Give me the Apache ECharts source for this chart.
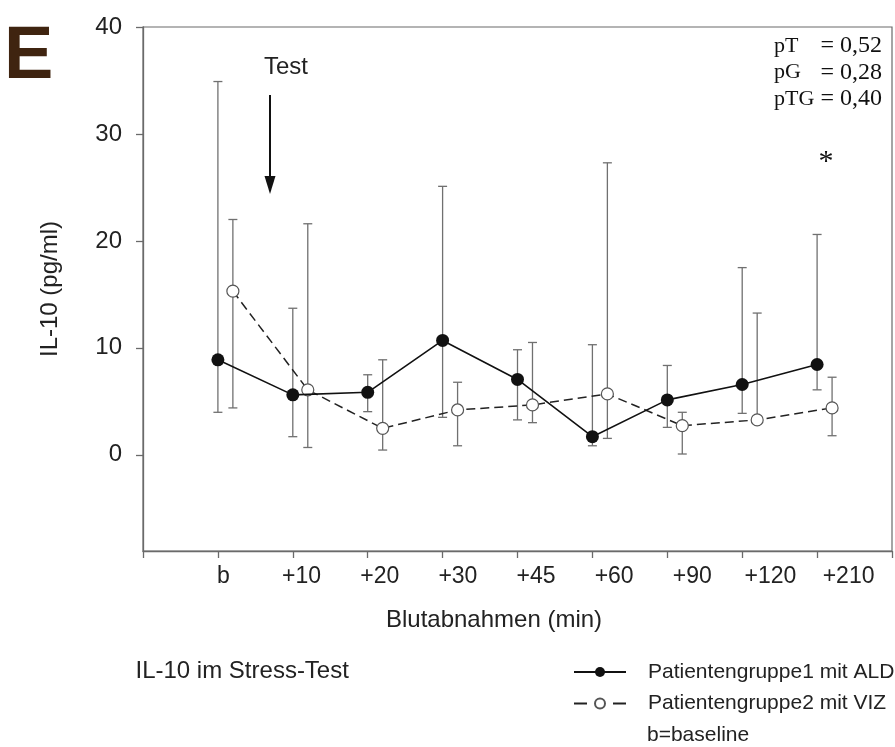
<!DOCTYPE html>
<html><head><meta charset="utf-8">
<script src="https://cdn.jsdelivr.net/npm/echarts@6/dist/echarts.min.js"></script>
<style>html,body{margin:0;padding:0;background:#fff}#c{width:895px;height:747px}</style>
</head><body><div id="c"></div>
<script>
// ---- data ----
const categories = ['b', '+10', '+20', '+30', '+45', '+60', '+90', '+120', '+210'];
const yTickValues = [0, 10, 20, 30, 40];
const seriesNames = ['Patientengruppe1 mit ALD', 'Patientengruppe2 mit VIZ'];
const aldMean = [8.88, 5.6, 5.84, 10.69, 7.04, 1.69, 5.13, 6.57, 8.44];
const aldLow  = [3.97, 1.69, 4.03, 3.5, 3.26, 0.84, 2.56, 3.87, 6.07];
const aldHigh = [34.9, 13.7, 7.48, 25.1, 9.82, 10.29, 8.35, 17.5, 20.6];
const vizMean = [15.3, 6.07, 2.47, 4.19, 4.66, 5.69, 2.72, 3.26, 4.38];
const vizLow  = [4.38, 0.68, 0.44, 0.84, 3.0, 1.53, 0.07, 2.9, 1.78];
const vizHigh = [22.0, 21.6, 8.88, 6.78, 10.5, 27.3, 3.97, 13.25, 7.25];
const pValues = [['pT', '= 0,52'], ['pG', '= 0,28'], ['pTG', '= 0,40']];
const panelLetter = 'E';
const chartNote = 'IL-10 im Stress-Test';
const baselineNote = 'b=baseline';
const testLabel = 'Test';
const sigMark = '*';

// ---- chart ----
const SANS = '"Liberation Sans", Arial, sans-serif';
const SERIF = '"Liberation Serif", "Times New Roman", serif';
const AX = '#6a6a6a';
const GROUP_SHIFT = [0, 0.2];
const pos = categories.map((c, i) => i + 1);

function pts(mean, s) { return mean.map((v, i) => [pos[i] + s, v]); }
function bars(lo, hi, s) { return lo.map((l, i) => [pos[i] + s, l, hi[i]]); }

function errRender(params, api) {
  const x = api.value(0);
  const lo = api.coord([x, api.value(1)]);
  const hi = api.coord([x, api.value(2)]);
  const w = 4.5;
  const style = { stroke: '#707070', lineWidth: 1.3 };
  return { type: 'group', children: [
    { type: 'line', shape: { x1: lo[0], y1: lo[1], x2: hi[0], y2: hi[1] }, style },
    { type: 'line', shape: { x1: lo[0] - w, y1: lo[1], x2: lo[0] + w, y2: lo[1] }, style },
    { type: 'line', shape: { x1: hi[0] - w, y1: hi[1], x2: hi[0] + w, y2: hi[1] }, style }
  ]};
}

const chart = echarts.init(document.getElementById('c'));

const graphics = [
  { type: 'text', x: 4, y: 58, style: { text: panelLetter, font: 'bold 74px ' + SANS, fill: '#3f2410', align: 'left', verticalAlign: 'middle' } },
  { type: 'text', x: 286, y: 67, style: { text: testLabel, font: '24px ' + SANS, fill: '#222', align: 'center', verticalAlign: 'middle' } },
  { type: 'line', shape: { x1: 270, y1: 95, x2: 270, y2: 180 }, style: { stroke: '#111', lineWidth: 2 } },
  { type: 'polygon', shape: { points: [[264.5, 176], [275.5, 176], [270, 194]] }, style: { fill: '#111' } },
  { type: 'text', x: 826, y: 162, style: { text: sigMark, font: '30px ' + SERIF, fill: '#111', align: 'center', verticalAlign: 'middle' } },
  { type: 'text', x: 135.5, y: 671, style: { text: chartNote, font: '24px ' + SANS, fill: '#222', align: 'left', verticalAlign: 'middle' } },
  { type: 'text', x: 647, y: 735, style: { text: baselineNote, font: '21px ' + SANS, fill: '#222', align: 'left', verticalAlign: 'middle' } }
];
pValues.forEach((p, i) => {
  const y = 46 + i * 26.6;
  graphics.push({ type: 'text', x: 774, y, style: { text: p[0], font: '22px ' + SERIF, fill: '#111', align: 'left', verticalAlign: 'middle' } });
  graphics.push({ type: 'text', x: 882, y, style: { text: p[1], font: '24px ' + SERIF, fill: '#111', align: 'right', verticalAlign: 'middle' } });
});

chart.setOption({
  animation: false,
  backgroundColor: '#fff',
  grid: { left: 143, right: 3, top: 27, bottom: 196, show: true, borderColor: AX, borderWidth: 1.2 },
  xAxis: [
    {
      type: 'value', min: 0, max: 10, interval: 1, position: 'bottom',
      axisLine: { show: true, onZero: false, lineStyle: { color: AX, width: 1.3 } },
      axisTick: { show: true, length: 7, lineStyle: { color: AX, width: 1.3 } },
      axisLabel: { show: false }, splitLine: { show: false },
      name: 'Blutabnahmen (min)', nameLocation: 'middle', nameGap: 57,
      nameTextStyle: { fontFamily: SANS, fontSize: 24, color: '#222', padding: [0, 47, 0, 0] }
    },
    {
      type: 'value', min: -0.03, max: 9.556, position: 'bottom',
      axisLine: { show: false }, axisTick: { show: false }, splitLine: { show: false },
      axisLabel: { customValues: pos, formatter: v => categories[Math.round(v) - 1] || '', margin: 14,
        fontFamily: SANS, fontSize: 23, color: '#222' }
    }
  ],
  yAxis: {
    type: 'value', min: -9, max: 40,
    axisLine: { show: true, onZero: false, lineStyle: { color: AX, width: 1.3 } },
    axisTick: { show: true, customValues: yTickValues, length: 7, lineStyle: { color: AX, width: 1.3 } },
    axisLabel: { customValues: yTickValues, margin: 21, fontFamily: SANS, fontSize: 24, color: '#222' },
    splitLine: { show: false },
    name: 'IL-10 (pg/ml)', nameLocation: 'middle', nameGap: 81,
    nameTextStyle: { fontFamily: SANS, fontSize: 24, color: '#222' }
  },
  legend: {
    orient: 'vertical', left: 573, top: 660, padding: 0, itemWidth: 52, itemHeight: 12.5, itemGap: 7.6,
    selectedMode: false,
    textStyle: { fontFamily: SANS, fontSize: 21, color: '#222', lineHeight: 24, padding: [0, 0, 0, 17] },
    data: [ { name: seriesNames[0] }, { name: seriesNames[1], lineStyle: { type: [13, 26] } } ]
  },
  series: [
    { type: 'custom', name: 'errALD', xAxisIndex: 0, renderItem: errRender, data: bars(aldLow, aldHigh, GROUP_SHIFT[0]), encode: { x: 0, y: [1, 2] }, z: 2, silent: true },
    { type: 'custom', name: 'errVIZ', xAxisIndex: 0, renderItem: errRender, data: bars(vizLow, vizHigh, GROUP_SHIFT[1]), encode: { x: 0, y: [1, 2] }, z: 2, silent: true },
    { type: 'line', name: seriesNames[1], xAxisIndex: 0, data: pts(vizMean, GROUP_SHIFT[1]), symbol: 'circle', symbolSize: 12,
      itemStyle: { color: '#fff', borderColor: '#555', borderWidth: 1.2 },
      lineStyle: { color: '#222', width: 1.5, type: [9, 5] }, z: 3 },
    { type: 'line', name: seriesNames[0], xAxisIndex: 0, data: pts(aldMean, GROUP_SHIFT[0]), symbol: 'circle', symbolSize: 13,
      itemStyle: { color: '#111' }, lineStyle: { color: '#111', width: 1.6 }, z: 4 }
  ],
  graphic: graphics
});
</script></body></html>
